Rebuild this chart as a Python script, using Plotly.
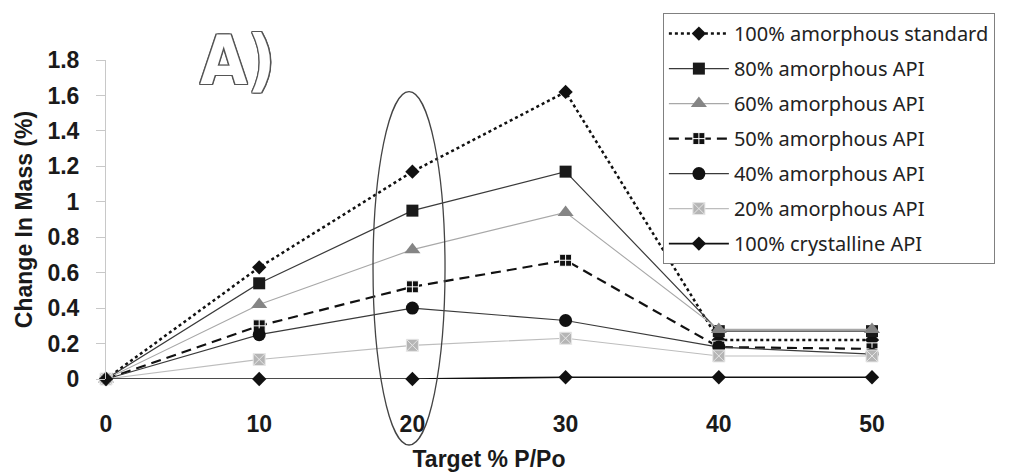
import plotly.graph_objects as go

x_vals = [0, 10, 20, 30, 40, 50]

names = [
    "100% amorphous standard",
    "80% amorphous API",
    "60% amorphous API",
    "50% amorphous API",
    "40% amorphous API",
    "20% amorphous API",
    "100% crystalline API",
]

amorph_std = [0, 0.63, 1.17, 1.62, 0.22, 0.22]
amorph_80 = [0, 0.54, 0.95, 1.17, 0.27, 0.27]
amorph_60 = [0, 0.42, 0.73, 0.94, 0.28, 0.28]
amorph_50 = [0, 0.30, 0.52, 0.67, 0.18, 0.17]
amorph_40 = [0, 0.25, 0.40, 0.33, 0.18, 0.14]
amorph_20 = [0, 0.11, 0.19, 0.23, 0.13, 0.13]
crystalline = [0, 0, 0, 0.01, 0.01, 0.01]

series = [amorph_std, amorph_80, amorph_60, amorph_50, amorph_40, amorph_20, crystalline]

styles = [
    dict(line=dict(color="#111111", width=2.5, dash="dot"),
         marker=dict(symbol="diamond", size=11, color="#111111")),
    dict(line=dict(color="#3a3a3a", width=1.2),
         marker=dict(symbol="square", size=12, color="#1a1a1a")),
    dict(line=dict(color="#a8a8a8", width=1.1),
         marker=dict(symbol="triangle-up", size=14, color="#858585")),
    dict(line=dict(color="#111111", width=2.2, dash="10px,6px"),
         marker=dict(symbol="square-cross", size=12, color="#111111",
                     line=dict(color="#ffffff", width=1))),
    dict(line=dict(color="#3a3a3a", width=1.2),
         marker=dict(symbol="circle", size=13, color="#111111")),
    dict(line=dict(color="#bdbdbd", width=1.1),
         marker=dict(symbol="square-x", size=12, color="#b5b5b5",
                     line=dict(color="#e6e6e6", width=1))),
    dict(line=dict(color="#111111", width=1.6),
         marker=dict(symbol="diamond", size=11, color="#111111")),
]

fig = go.Figure()
for i in range(len(series)):
    fig.add_trace(go.Scatter(
        x=x_vals, y=series[i], name=names[i], mode="lines+markers",
        legendgroup=f"g{i}", cliponaxis=False, **styles[i]))

axis_font = dict(family="Liberation Sans, Arial", size=23, color="#1a1a1a", weight="bold")

fig.update_layout(
    width=1011, height=476,
    margin=dict(l=106, r=139, t=60, b=97),
    paper_bgcolor="white", plot_bgcolor="white",
    showlegend=True,
    legend=dict(
        x=0.727, y=1.147, xanchor="left", yanchor="top",
        bordercolor="#808080", borderwidth=1, bgcolor="white",
        font=dict(family="Noto Sans", size=20, color="#222222"),
        tracegroupgap=6, itemwidth=60, maxheight=600,
    ),
    xaxis=dict(
        range=[0, 50], tickvals=x_vals, ticktext=[str(v) for v in x_vals],
        showgrid=False, zeroline=False, showline=False, ticks="",
        tickfont=axis_font, ticklabelstandoff=29, automargin=False,
        title=dict(text="Target % P/Po", font=axis_font, standoff=14),
    ),
    yaxis=dict(
        range=[0, 1.8], tickvals=[0, 0.2, 0.4, 0.6, 0.8, 1, 1.2, 1.4, 1.6, 1.8],
        ticktext=["0", "0.2", "0.4", "0.6", "0.8", "1", "1.2", "1.4", "1.6", "1.8"],
        showgrid=False, zeroline=False, showline=True, linecolor="#c8c8c8", linewidth=1,
        ticks="outside", ticklen=9, tickcolor="#c8c8c8",
        tickfont=axis_font, ticklabelstandoff=12, automargin=False,
        title=dict(text="Change In Mass (%)", font=axis_font, standoff=8),
    ),
    shapes=[dict(type="circle", xref="paper", yref="paper",
                 x0=0.3486, x1=0.4426, y0=-0.2069, y1=0.9006,
                 line=dict(color="#444444", width=1.3), layer="above")],
    annotations=[dict(
        text="A)", xref="paper", yref="paper", x=0.172, y=1.0,
        xanchor="center", yanchor="middle", showarrow=False,
        font=dict(family="DejaVu Sans Condensed, DejaVu Sans", size=68, color="white", weight="bold",
                  shadow="-1.2px -1.2px 0 #555, 1.2px -1.2px 0 #555, -1.2px 1.2px 0 #555, 1.2px 1.2px 0 #555, 0 1.3px 0 #555, 0 -1.3px 0 #555, 1.3px 0 0 #555, -1.3px 0 0 #555"),
    )],
)

fig.write_html("out.html")
